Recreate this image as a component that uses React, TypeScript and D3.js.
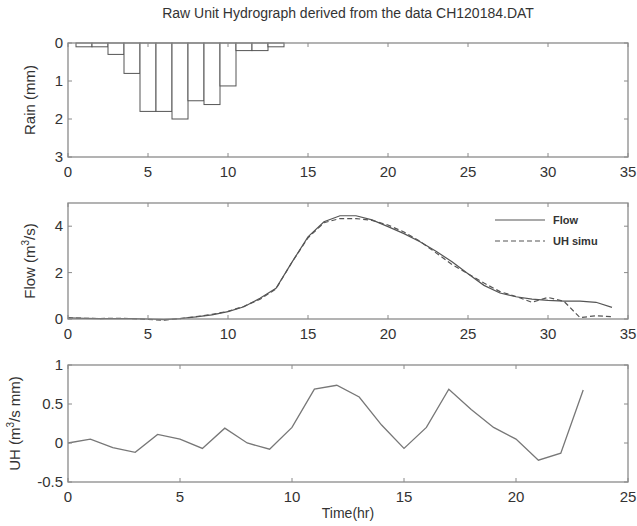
import React from "react";
import * as d3 from "d3";

const titleText = "Raw Unit Hydrograph derived from the data CH120184.DAT";

const rainHours = [1, 2, 3, 4, 5, 6, 7, 8, 9, 10, 11, 12, 13];
const rainMm = [0.1, 0.1, 0.3, 0.8, 1.8, 1.8, 2.0, 1.52, 1.62, 1.13, 0.2, 0.2, 0.1];
const rainTicksY = [0, 1, 2, 3];

const flowHours = d3.range(0, 35);
const flowObs = [
  0.05, 0.03, 0.02, 0.02, 0.02, 0.0, -0.03, 0.02, 0.09, 0.18, 0.32, 0.53, 0.89, 1.32,
  2.45, 3.54, 4.19, 4.45, 4.45, 4.27, 3.98, 3.68, 3.33, 2.92, 2.47, 1.95, 1.45, 1.12,
  0.96, 0.86, 0.8, 0.77, 0.77, 0.72, 0.5,
];
const flowSim = [
  0.05, 0.03, 0.02, 0.03, 0.02, -0.02, -0.05, 0.02, 0.1, 0.2, 0.33, 0.55, 0.85, 1.3,
  2.45, 3.5, 4.15, 4.33, 4.33, 4.25, 4.05, 3.75, 3.35, 2.85, 2.35, 1.95, 1.55, 1.18,
  0.97, 0.72, 0.93, 0.76, 0.06, 0.14, 0.1,
];
const flowTicksY = [0, 2, 4];
const xTicks35 = [0, 5, 10, 15, 20, 25, 30, 35];

const uhHours = d3.range(0, 24);
const uhValues = [
  0.0, 0.05, -0.06, -0.12, 0.11, 0.05, -0.07, 0.19, 0.0, -0.08, 0.2, 0.69, 0.74, 0.59,
  0.23, -0.07, 0.2, 0.69, 0.43, 0.2, 0.05, -0.22, -0.13, 0.68,
];
const uhTicksY = [-0.5, 0, 0.5, 1];
const uhTickLabels = ["-0.5", "0", "0.5", "1"];
const xTicks25 = [0, 5, 10, 15, 20, 25];

const W = 637;
const H = 526;
const L = 68;
const R = 628;
const FONT = "'Liberation Sans', Arial, Helvetica, sans-serif";
const AXC = "#8a8a8a";
const TXT = "#333";
const LINEC = "#555";
const TICK = 4;

type PanelProps = {
  top: number;
  bottom: number;
  x: d3.ScaleLinear<number, number>;
  y: d3.ScaleLinear<number, number>;
  xt: number[];
  yt: number[];
  ytLabels?: string[];
  children?: React.ReactNode;
};

function Panel({ top, bottom, x, y, xt, yt, ytLabels, children }: PanelProps) {
  return (
    <g>
      {children}
      <rect x={L} y={top} width={R - L} height={bottom - top} fill="none" stroke={AXC} strokeWidth={1.3} />
      {xt.map((t) => (
        <g key={"x" + t}>
          <line x1={x(t)} x2={x(t)} y1={bottom} y2={bottom - TICK} stroke={AXC} />
          <line x1={x(t)} x2={x(t)} y1={top} y2={top + TICK} stroke={AXC} />
          <text x={x(t)} y={bottom + 20} fontSize={15} fill={TXT} textAnchor="middle" fontFamily={FONT}>
            {t}
          </text>
        </g>
      ))}
      {yt.map((t, i) => (
        <g key={"y" + t}>
          <line x1={L} x2={L + TICK} y1={y(t)} y2={y(t)} stroke={AXC} />
          <line x1={R} x2={R - TICK} y1={y(t)} y2={y(t)} stroke={AXC} />
          <text x={L - 5} y={y(t) + 5} fontSize={15} fill={TXT} textAnchor="end" fontFamily={FONT}>
            {ytLabels ? ytLabels[i] : t}
          </text>
        </g>
      ))}
    </g>
  );
}

export default function App() {
  // panel 1 : rain
  const p1 = { top: 43, bottom: 157 };
  const x1 = d3.scaleLinear().domain([0, 35]).range([L, R]);
  const y1 = d3.scaleLinear().domain([0, 3]).range([p1.top, p1.bottom]);

  // panel 2 : flow
  const p2 = { top: 203, bottom: 319 };
  const y2 = d3.scaleLinear().domain([0, 5]).range([p2.bottom, p2.top]);
  const flowLine = d3
    .line<number>()
    .x((_, i) => x1(flowHours[i]))
    .y((d) => y2(d));

  // panel 3 : UH
  const p3 = { top: 365, bottom: 482 };
  const x3 = d3.scaleLinear().domain([0, 25]).range([L, R]);
  const y3 = d3.scaleLinear().domain([-0.5, 1]).range([p3.bottom, p3.top]);
  const uhLine = d3
    .line<number>()
    .x((_, i) => x3(uhHours[i]))
    .y((d) => y3(d));

  return (
    <div style={{ position: "absolute", left: 0, top: 0 }}>
      <svg width={W} height={H} style={{ display: "block", background: "#fff" }}>
        <rect x={0} y={0} width={W} height={H} fill="#fff" />
        <text x={348} y={18} fontSize={14} fill={TXT} textAnchor="middle" fontFamily={FONT}>
          {titleText}
        </text>

        <Panel top={p1.top} bottom={p1.bottom} x={x1} y={y1} xt={xTicks35} yt={rainTicksY}>
          {rainHours.map((h, i) => (
            <rect
              key={h}
              x={x1(h - 0.5)}
              y={y1(0)}
              width={x1(h + 0.5) - x1(h - 0.5)}
              height={y1(rainMm[i]) - y1(0)}
              fill="#fff"
              stroke={LINEC}
              strokeWidth={1}
            />
          ))}
        </Panel>
        <text
          transform={`translate(35,${(p1.top + p1.bottom) / 2}) rotate(-90)`}
          fontSize={15}
          fill={TXT}
          textAnchor="middle"
          fontFamily={FONT}
        >
          Rain (mm)
        </text>

        <Panel top={p2.top} bottom={p2.bottom} x={x1} y={y2} xt={xTicks35} yt={flowTicksY}>
          <path d={flowLine(flowObs) || ""} fill="none" stroke={LINEC} strokeWidth={1.2} />
          <path d={flowLine(flowSim) || ""} fill="none" stroke={LINEC} strokeWidth={1.2} strokeDasharray="5,3" />
          <line x1={495} x2={545} y1={220} y2={220} stroke={LINEC} strokeWidth={1.2} />
          <text x={553} y={224} fontSize={11} fontWeight="bold" fill={TXT} fontFamily={FONT}>
            Flow
          </text>
          <line x1={495} x2={545} y1={241} y2={241} stroke={LINEC} strokeWidth={1.2} strokeDasharray="5,3" />
          <text x={553} y={245} fontSize={11} fontWeight="bold" fill={TXT} fontFamily={FONT}>
            UH simu
          </text>
        </Panel>
        <text
          transform={`translate(35,${(p2.top + p2.bottom) / 2}) rotate(-90)`}
          fontSize={15}
          fill={TXT}
          textAnchor="middle"
          fontFamily={FONT}
        >
          Flow (m<tspan dy={-6} fontSize={10}>3</tspan>
          <tspan dy={6}>/s)</tspan>
        </text>

        <Panel
          top={p3.top}
          bottom={p3.bottom}
          x={x3}
          y={y3}
          xt={xTicks25}
          yt={uhTicksY}
          ytLabels={uhTickLabels}
        >
          <path d={uhLine(uhValues) || ""} fill="none" stroke="#777" strokeWidth={1.3} />
        </Panel>
        <text
          transform={`translate(20,${(p3.top + p3.bottom) / 2}) rotate(-90)`}
          fontSize={15}
          fill={TXT}
          textAnchor="middle"
          fontFamily={FONT}
        >
          UH (m<tspan dy={-6} fontSize={10}>3</tspan>
          <tspan dy={6}>/s mm)</tspan>
        </text>
        <text x={348} y={518} fontSize={14} fill={TXT} textAnchor="middle" fontFamily={FONT}>
          Time(hr)
        </text>
      </svg>
    </div>
  );
}
